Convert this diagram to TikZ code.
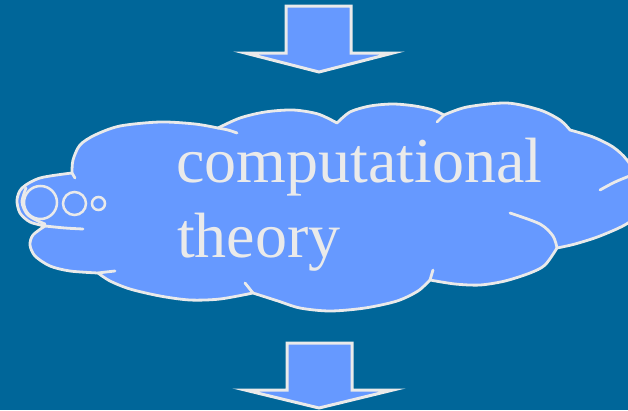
\documentclass[tikz,border=0pt]{standalone}
\usepackage{fontspec}
\setmainfont{Liberation Serif}
\definecolor{bg}{HTML}{006699}
\definecolor{cl}{HTML}{6699FF}
\definecolor{ln}{HTML}{EAEAEA}
\begin{document}
\begin{tikzpicture}[x=1pt,y=-1pt,
  outl/.style={draw=ln, line width=2.8pt, line join=round, line cap=round},
  fold/.style={draw=ln, line width=2.8pt, line cap=round},
  blockarrow/.style={fill=cl, draw=ln, line width=3pt, line join=miter},
  label/.style={anchor=base west, inner sep=0pt, text=ln, font=\fontsize{64}{75}\selectfont}]
\useasboundingbox (0,0) rectangle (628,410);
\fill[bg] (0,0) rectangle (628,410);
\begin{scope}
\clip (0,0) rectangle (628,410);
% cloud outline
\path[fill=cl, outl]
  plot[smooth] coordinates {(72,173) (73,160) (80,145) (95,135) (120,126) (160,122) (195,124) (218,128)}
  -- plot[smooth] coordinates {(218,128) (240,118) (265,112) (293,110) (318,114) (337,123)}
  -- plot[smooth] coordinates {(337,123) (350,112) (370,106) (393,104) (415,106) (433,110) (444,115)}
  -- plot[smooth] coordinates {(444,115) (467,107) (507,103) (540,110) (560,120) (570,130)}
  -- plot[smooth] coordinates {(570,130) (593,137) (613,147) (627,160) (640,182) (645,205) (628,223) (600,236) (575,244) (557,248)}
  -- plot[smooth] coordinates {(557,248) (545,265) (530,273) (505,281) (480,285) (455,284) (430,280)}
  -- plot[smooth] coordinates {(430,280) (418,291) (397,301) (365,308) (330,311) (300,308) (278,301) (253,293)}
  -- plot[smooth] coordinates {(253,293) (220,299) (190,300) (160,296) (130,289) (110,281) (98,273)}
  -- plot[smooth] coordinates {(98,273) (70,271) (50,266) (35,256) (30,245) (33,235) (45,226)}
  -- plot[smooth] coordinates {(45,226) (30,222) (20,213) (17,200) (22,188) (40,178) (72,173)}
  -- cycle;
% folds
\draw[fold] (72,173) -- (75,178);
\draw[fold] plot[smooth] coordinates {(218,128) (228,130) (237,133)};
\draw[fold] (444,115) -- (437,122);
\draw[fold] plot[smooth] coordinates {(600,190) (615,182) (632,175)};
\draw[fold] plot[smooth] coordinates {(557,248) (553,236) (540,224) (510,213)};
\draw[fold] (430,280) -- (433,270);
\draw[fold] (253,293) -- (245,283);
\draw[fold] plot[smooth] coordinates {(98,273) (106,272) (115,271)};
\draw[fold] plot[smooth] coordinates {(45,226) (65,228) (83,229)};
\draw[fold] plot[smooth] coordinates {(26,188) (22,202) (27,214) (36,220) (45,224)};
\end{scope}
% thought bubbles
\draw[draw=ln, line width=2.5pt] (40.5,202.5) circle[radius=16.5pt];
\draw[draw=ln, line width=2.5pt] (74.5,203.5) circle[radius=11.5pt];
\draw[draw=ln, line width=2.5pt] (98.5,203.5) circle[radius=6.5pt];
% text
\node[label] (l1) at (176,182) {computational};
\node[label] (l2) at (177,257) {theory};
% block arrows
\path[blockarrow] (286,6) -- (351,6) -- (351,53) -- (393,53) -- (319,72) -- (245,53) -- (286,53) -- cycle;
\path[blockarrow] (287,343) -- (352,343) -- (352,390) -- (393,390) -- (319,408) -- (245,390) -- (287,390) -- cycle;
\end{tikzpicture}
\end{document}
